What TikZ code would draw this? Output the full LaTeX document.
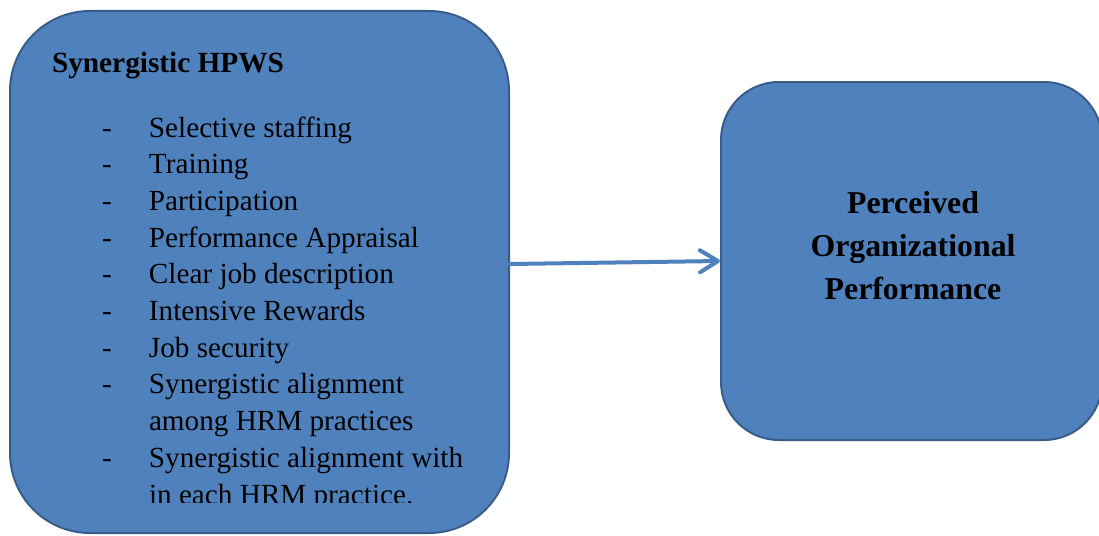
\documentclass[tikz,border=0pt]{standalone}
\usepackage{fontspec}
\setmainfont{Liberation Serif}
\usetikzlibrary{arrows.meta}
\definecolor{boxfill}{HTML}{4F81BD}
\definecolor{boxline}{HTML}{385D8A}
\tikzset{
  panel/.style={draw=boxline, fill=boxfill, line width=2pt, inner sep=0pt},
  arr/.style={draw=boxfill, line width=4pt, line cap=round,
    -{Straight Barb[length=18pt,width=22pt,line cap=round,line join=round]}},
  txt/.style={inner sep=0pt, outer sep=0pt, text=black}
}
\begin{document}
\begin{tikzpicture}[x=1pt,y=-1pt]
\clip (0,0) rectangle (1099,535);
\node[panel, rounded corners=80pt, minimum width=499pt, minimum height=522pt] (L) at (259.5,272) {};
\node[panel, rounded corners=58pt, minimum width=381pt, minimum height=358pt] (R) at (911.5,261) {};
\node[txt, anchor=base west] (title) at (52,72) {\fontsize{29.3}{36.7}\selectfont\bfseries Synergistic HPWS};
\begin{scope}
\clip (0,0) rectangle (1099,502);
\node[txt, anchor=base west] (list) at (102,137) {\fontsize{29.2}{36.7}\selectfont
\def\arraystretch{1}\setlength{\tabcolsep}{0pt}%
\begin{tabular}[t]{@{}p{47pt}@{}l@{}}
- & Selective staffing\\
- & Training\\
- & Participation\\
- & Performance Appraisal\\
- & Clear job description\\
- & Intensive Rewards\\
- & Job security\\
- & Synergistic alignment\\
  & among HRM practices\\
- & Synergistic alignment with\\
  & in each HRM practice.
\end{tabular}};
\end{scope}
\node[txt, anchor=base] (rt) at (913,213) {\fontsize{31.8}{43}\selectfont\bfseries
\def\arraystretch{1}\setlength{\tabcolsep}{0pt}%
\begin{tabular}[t]{c}
Perceived\\
Organizational\\
Performance
\end{tabular}};
\draw[arr] ([yshift=8pt]L.east) -- (R.west);
\end{tikzpicture}
\end{document}
